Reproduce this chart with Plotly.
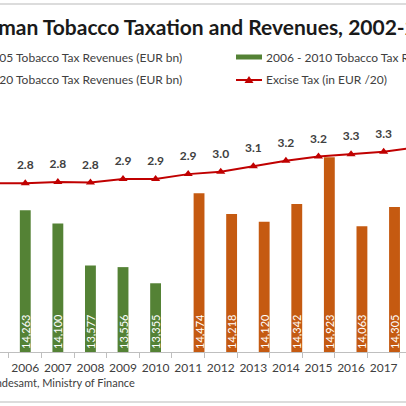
import plotly.graph_objects as go

# ---------------- data ----------------
green_years = [2006, 2007, 2008, 2009, 2010]
green_vals = [14263, 14100, 13577, 13556, 13355]
orange_years = [2011, 2012, 2013, 2014, 2015, 2016, 2017]
orange_vals = [14474, 14218, 14120, 14342, 14923, 14063, 14305]
excise_years = [2005, 2006, 2007, 2008, 2009, 2010, 2011, 2012, 2013, 2014, 2015, 2016, 2017, 2018]
excise_vals = [2.79, 2.79, 2.81, 2.80, 2.86, 2.86, 2.94, 2.98, 3.07, 3.16, 3.23, 3.27, 3.31, 3.38]
tick_years = [2006, 2007, 2008, 2009, 2010, 2011, 2012, 2013, 2014, 2015, 2016, 2017]
tick_labels = [str(y) for y in tick_years]

title_text = "German Tobacco Taxation and Revenues, 2002-2018"
legend_s1 = "2002 - 2005 Tobacco Tax Revenues (EUR bn)"
legend_s2 = "2006 - 2010 Tobacco Tax Revenues (EUR bn)"
legend_s3 = "2011 - 2020 Tobacco Tax Revenues (EUR bn)"
legend_s4 = "Excise Tax (in EUR /20)"
source_text = "Source: Statistisches Bundesamt, Ministry of Finance"

W = H = 406
FONT = "Lato"
GREEN = "#548235"
ORANGE = "#C55A11"
RED = "#C00000"
AXIS_MIN = 12500
AXIS_MAX = 15635


def px(x):
    return x / W


def py(y):
    return 1 - y / H


fig = go.Figure()

# bars start at the value-axis minimum (as in the original spreadsheet chart)
fig.add_trace(go.Bar(
    x=green_years, y=[v - AXIS_MIN for v in green_vals], base=AXIS_MIN,
    width=1 / 3, offset=-1 / 6,
    marker=dict(color=GREEN, line=dict(width=0)),
    text=[f"{v:,}" for v in green_vals], textposition="inside",
    insidetextanchor="start", textangle=-90,
    textfont=dict(family=FONT, size=11, color="white"),
    name=legend_s2, showlegend=False, hoverinfo="skip",
))
fig.add_trace(go.Bar(
    x=orange_years, y=[v - AXIS_MIN for v in orange_vals], base=AXIS_MIN,
    width=1 / 3, offset=1 / 6,
    marker=dict(color=ORANGE, line=dict(width=0)),
    text=[f"{v:,}" for v in orange_vals], textposition="inside",
    insidetextanchor="start", textangle=-90,
    textfont=dict(family=FONT, size=11, color="white"),
    name=legend_s3, showlegend=False, hoverinfo="skip",
))
fig.add_trace(go.Scatter(
    x=excise_years, y=excise_vals, yaxis="y2", mode="lines+markers",
    line=dict(color=RED, width=2),
    marker=dict(symbol="triangle-up", size=8, color=RED),
    name=legend_s4, showlegend=False, hoverinfo="skip", cliponaxis=False,
))
fig.add_trace(go.Scatter(
    x=excise_years, y=excise_vals, yaxis="y2", mode="markers+text",
    marker=dict(size=16, color="rgba(0,0,0,0)"),
    text=[f"{v:.1f}" for v in excise_vals], textposition="top center",
    textfont=dict(family=FONT, size=12, color="#404040", weight="bold"),
    showlegend=False, hoverinfo="skip", cliponaxis=False,
))

annotations = [
    dict(text=f"<b>{title_text}</b>", x=px(208), y=py(27), xref="paper", yref="paper",
         xanchor="center", yanchor="middle", showarrow=False,
         font=dict(family=FONT, size=21, color="#1a1a1a")),
    dict(text=legend_s1, x=px(184), y=py(57), xref="paper", yref="paper",
         xanchor="right", yanchor="middle", showarrow=False,
         font=dict(family=FONT, size=12, color="#404040")),
    dict(text=legend_s3, x=px(184), y=py(80), xref="paper", yref="paper",
         xanchor="right", yanchor="middle", showarrow=False,
         font=dict(family=FONT, size=12, color="#404040")),
    dict(text=legend_s2, x=px(264), y=py(57), xref="paper", yref="paper",
         xanchor="left", yanchor="middle", showarrow=False,
         font=dict(family=FONT, size=12, color="#404040")),
    dict(text=legend_s4, x=px(264), y=py(80), xref="paper", yref="paper",
         xanchor="left", yanchor="middle", showarrow=False,
         font=dict(family=FONT, size=12, color="#404040")),
    dict(text=source_text, x=px(137), y=py(382), xref="paper", yref="paper",
         xanchor="right", yanchor="middle", showarrow=False,
         font=dict(family=FONT, size=11, color="#404040")),
]

shapes = [
    dict(type="line", xref="paper", yref="paper", x0=0, x1=1, y0=py(4), y1=py(4),
         line=dict(color="#d0d0d0", width=1.5)),
    dict(type="line", xref="paper", yref="paper", x0=0, x1=1, y0=py(402), y1=py(402),
         line=dict(color="#d0d0d0", width=1.5)),
    dict(type="rect", xref="paper", yref="paper", x0=px(236), x1=px(262), y0=py(54.5), y1=py(59.5),
         fillcolor=GREEN, line=dict(width=0)),
    dict(type="line", xref="paper", yref="paper", x0=px(236), x1=px(262), y0=py(80), y1=py(80),
         line=dict(color=RED, width=2)),
    dict(type="path", xref="paper", yref="paper",
         path=f"M {px(244.5)} {py(83)} L {px(253.5)} {py(83)} L {px(249)} {py(76)} Z",
         fillcolor=RED, line=dict(width=0)),
]

x0 = 2005.224
x1 = 2017.686
fig.update_layout(
    width=W, height=H,
    margin=dict(l=0, r=0, t=0, b=0, pad=0),
    paper_bgcolor="white", plot_bgcolor="white",
    barmode="overlay",
    showlegend=False,
    uniformtext=dict(minsize=11, mode="show"),
    font=dict(family=FONT, color="#404040"),
    xaxis=dict(
        range=[x0, x1], domain=[0, 1], automargin=False,
        tickvals=tick_years, ticktext=tick_labels, ticks="",
        ticklabelstandoff=5,
        tickfont=dict(family=FONT, size=12, color="#404040"),
        showline=True, linecolor="#bfbfbf", linewidth=1,
        showgrid=False, zeroline=False,
        minor=dict(dtick=1, tick0=2005.5, ticks="outside", ticklen=5,
                   tickcolor="#bfbfbf", tickwidth=1, showgrid=False),
    ),
    yaxis=dict(
        range=[AXIS_MIN, AXIS_MAX], domain=[py(352), py(100)], automargin=False,
        visible=False, showgrid=False, zeroline=False,
    ),
    yaxis2=dict(
        range=[0, 4.165], overlaying="y", side="right", automargin=False,
        visible=False, showgrid=False, zeroline=False,
    ),
    annotations=annotations,
    shapes=shapes,
)

fig.write_html(
    "out.html",
    config={"displayModeBar": False},
    post_script="document.body.style.margin='0';document.body.style.overflow='hidden';",
)
